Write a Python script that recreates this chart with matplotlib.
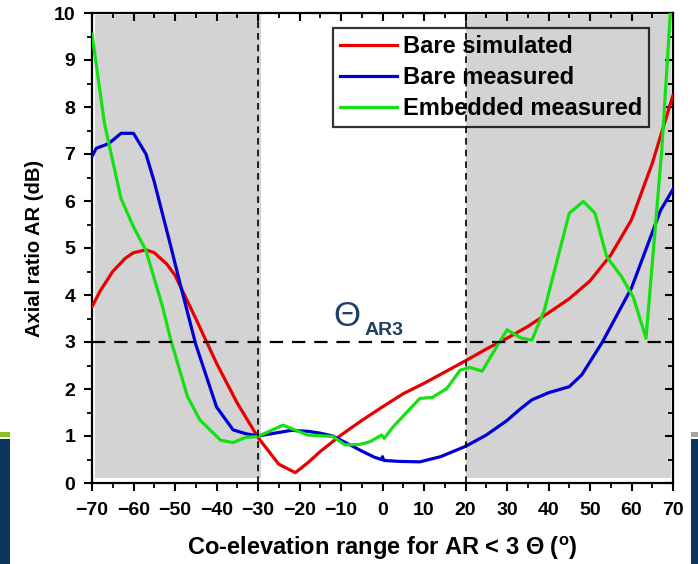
import matplotlib.pyplot as plt
from matplotlib.patches import Rectangle
from matplotlib.ticker import MultipleLocator

plt.rcParams["font.family"] = ["Liberation Sans", "DejaVu Sans"]
plt.rcParams["font.weight"] = "bold"
plt.rcParams["mathtext.fontset"] = "custom"
plt.rcParams["mathtext.bf"] = "Liberation Sans:bold"
plt.rcParams["mathtext.rm"] = "Liberation Sans"

# Bare simulated
red_x = [-70, -68, -65, -62, -60, -57, -55, -52, -50, -45, -40, -35, -30, -25, -21, -18, -15, -10, -5,
         0, 5, 10, 15, 20, 25, 30, 35, 40, 45, 50, 55, 60, 65, 70]
red_y = [3.75, 4.09, 4.5, 4.78, 4.9, 4.96, 4.9, 4.66, 4.42, 3.5, 2.55, 1.7, 0.97, 0.4, 0.22, 0.43, 0.67, 1.02, 1.33,
         1.62, 1.9, 2.12, 2.36, 2.6, 2.85, 3.08, 3.33, 3.62, 3.92, 4.3, 4.85, 5.6, 6.8, 8.25]

# Bare measured
blue_x = [-70, -69, -66, -63, -60, -57, -55, -51, -49, -45, -40, -36, -33, -30, -26, -22,
          -18, -15, -12, -8, -5, -2, -0.3, 0, 0.3, 4, 9, 14, 20, 25, 30, 33, 36, 40,
          45, 48, 53, 60, 67, 70]
blue_y = [6.95, 7.12, 7.22, 7.44, 7.44, 7.0, 6.41, 5.03, 4.32, 2.95, 1.62, 1.13, 1.05, 1.0, 1.06, 1.12,
          1.1, 1.06, 1.0, 0.82, 0.68, 0.55, 0.5, 0.56, 0.48, 0.46, 0.45, 0.56, 0.78, 1.02, 1.33, 1.56, 1.77, 1.92,
          2.05, 2.3, 3.0, 4.15, 5.8, 6.25]

# Embedded measured
green_x = [-70, -67, -63, -60, -57, -53, -51, -47, -44, -39, -36, -33, -30, -24, -18, -12,
           -9, -5.5, -3, -0.2, 0.4, 2.6, 9, 12, 15.5, 18.7, 21, 24, 28, 30, 33.5, 36,
           39, 45, 48.4, 51.2, 54, 57.6, 60.4, 63.5, 67.3, 69.5]
green_y = [9.55, 7.65, 6.05, 5.45, 4.95, 3.75, 3.04, 1.84, 1.34, 0.91, 0.86, 0.97, 0.99, 1.23, 1.02, 0.99,
           0.81, 0.82, 0.88, 1.02, 0.95, 1.2, 1.8, 1.82, 2.01, 2.4, 2.46, 2.38, 2.97, 3.26, 3.08, 3.04,
           3.68, 5.74, 5.99, 5.74, 4.82, 4.39, 3.96, 3.08, 7.09, 10.2]

x_ticks = [-70, -60, -50, -40, -30, -20, -10, 0, 10, 20, 30, 40, 50, 60, 70]
y_ticks = [0, 1, 2, 3, 4, 5, 6, 7, 8, 9, 10]

fig = plt.figure(figsize=(6.98, 5.64), dpi=100)
ax = fig.add_axes([92 / 698, 1 - 483 / 564, 581 / 698, 470 / 564])

# shaded out-of-range regions
ax.axvspan(-69.3, -29.3, ymin=0.01, ymax=0.995, color="#d3d3d3", lw=0, zorder=0)
ax.axvspan(20, 69.4, ymin=0.01, ymax=0.995, color="#d3d3d3", lw=0, zorder=0)

ax.plot(red_x, red_y, color="#e80000", lw=2.3, label="Bare simulated", zorder=3)
ax.plot(blue_x, blue_y, color="#0000d4", lw=2.3, label="Bare measured", zorder=3)
ax.plot(green_x, green_y, color="#14e014", lw=2.3, label="Embedded measured", zorder=3)

ax.axhline(3, color="black", lw=1.6, ls=(0, (6, 4)), zorder=4)
ax.axvline(-30, color="black", lw=1.2, ls=(0, (4, 3)), zorder=4)
ax.axvline(20, color="black", lw=1.2, ls=(0, (4, 3)), zorder=4)

ax.set_xlim(-70, 70)
ax.set_ylim(0, 10)
ax.set_xticks(x_ticks)
ax.set_yticks(y_ticks)
ax.xaxis.set_minor_locator(MultipleLocator(5))
ax.yaxis.set_minor_locator(MultipleLocator(0.5))
ax.tick_params(axis="x", which="major", labelsize=14, length=5.5, width=1.5, pad=8)
ax.tick_params(axis="y", which="major", labelsize=14, length=6, width=1.5, pad=6)
ax.tick_params(which="minor", length=3.5, width=1.3)
ax.tick_params(which="both", top=True, right=True, labeltop=False, labelright=False)
ax.tick_params(which="both", direction="out")
for t in ax.xaxis.get_ticklines(minor=False)[1::2] + ax.xaxis.get_ticklines(minor=True)[1::2]:
    t.set_marker(3)
for t in ax.yaxis.get_ticklines(minor=False)[1::2] + ax.yaxis.get_ticklines(minor=True)[1::2]:
    t.set_marker(0)
for s in ax.spines.values():
    s.set_linewidth(1.6)

ax.set_ylabel("Axial ratio AR (dB)", fontsize=14.5, fontweight="bold", labelpad=7)
ax.set_xlabel("Co-elevation range for AR < 3 \u0398 ($^{\\mathbf{o}}$)", fontsize=17,
              fontweight="bold", labelpad=11)

ax.text(-8.6, 3.33, "\u0398", fontsize=25, color="#1f3f66", fontweight="normal",
        ha="center", va="baseline")
ax.text(-4.4, 3.15, "AR3", fontsize=14, color="#1f3f66", fontweight="bold",
        ha="left", va="baseline")

leg = ax.legend(loc="upper left", bbox_to_anchor=((333 - 92) / 581, 1 - 15 / 470), fontsize=17,
                frameon=True, fancybox=False, handlelength=2.4, handletextpad=0.25,
                labelspacing=0.34, borderpad=0.3, borderaxespad=0)
leg.get_frame().set_facecolor("none")
leg.get_frame().set_edgecolor("black")
leg.get_frame().set_linewidth(1.6)
leg.set_zorder(5)

# slide decoration at the edges
fig.patches.append(Rectangle((0, 0), 10 / 698, 125 / 564, transform=fig.transFigure,
                             color="#0d3560", lw=0))
fig.patches.append(Rectangle((0, 127 / 564), 10 / 698, 5 / 564, transform=fig.transFigure,
                             color="#8cbf26", lw=0))
fig.patches.append(Rectangle((691 / 698, 0), 7 / 698, 125 / 564, transform=fig.transFigure,
                             color="#0d3560", lw=0))
fig.patches.append(Rectangle((691 / 698, 127 / 564), 7 / 698, 5 / 564, transform=fig.transFigure,
                             color="#a0a6a8", lw=0))

fig.savefig("out.png", dpi=100)
